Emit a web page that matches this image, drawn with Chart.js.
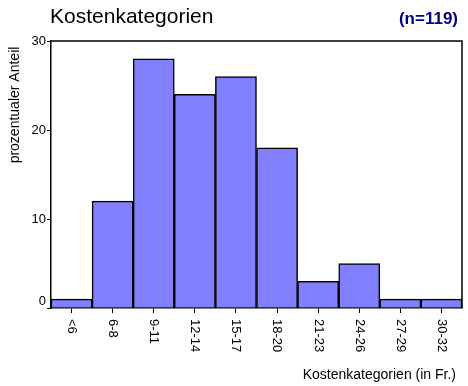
<!DOCTYPE html>
<html>
<head>
<meta charset="utf-8">
<script src="https://cdn.jsdelivr.net/npm/chart.js@4/dist/chart.umd.min.js"></script>
<style>
html,body{margin:0;padding:0;background:#fff;}
canvas{display:block;}
</style>
</head>
<body>
<canvas id="c" width="468" height="386"></canvas>
<script>
const categories = ['<6','6-8','9-11','12-14','15-17','18-20','21-23','24-26','27-29','30-32'];
const values = [1, 12, 28, 24, 26, 18, 3, 5, 1, 1];
const yTickValues = [0, 10, 20, 30];
const titleText = 'Kostenkategorien';
const nText = '(n=119)';
const yTitle = 'prozentualer Anteil';
const xTitle = 'Kostenkategorien (in Fr.)';

const FONT = '"Liberation Sans", Arial, sans-serif';

const decor = {
  id: 'decor',
  afterDraw(chart) {
    const ctx = chart.ctx;
    const a = chart.chartArea;
    const xs = chart.scales.x, ys = chart.scales.y;
    ctx.save();
    // frame top & right
    ctx.strokeStyle = '#000';
    ctx.lineWidth = 1.5;
    ctx.beginPath();
    ctx.moveTo(a.left, a.top);
    ctx.lineTo(a.right, a.top);
    ctx.lineTo(a.right, a.bottom);
    ctx.stroke();
    // y tick labels
    ctx.fillStyle = '#000';
    ctx.font = '13px ' + FONT;
    ctx.textAlign = 'right';
    ctx.textBaseline = 'middle';
    yTickValues.forEach(v => {
      let py = ys.getPixelForValue(v);
      py = Math.min(py, a.bottom - 7);
      ctx.fillText(String(v), a.left - 5, py);
    });
    // x tick labels rotated clockwise
    ctx.textAlign = 'left';
    ctx.textBaseline = 'middle';
    categories.forEach((c, i) => {
      const px = xs.getPixelForValue(i);
      ctx.save();
      ctx.translate(px, a.bottom + 11);
      ctx.rotate(Math.PI / 2);
      ctx.fillText(c, 0, 0);
      ctx.restore();
    });
    // titles
    ctx.font = '21px ' + FONT;
    ctx.textAlign = 'left';
    ctx.textBaseline = 'alphabetic';
    ctx.fillText(titleText, 50, 23);
    ctx.font = 'bold 17px ' + FONT;
    ctx.fillStyle = '#000080';
    ctx.textAlign = 'right';
    ctx.fillText(nText, 458, 24);
    // x title
    ctx.fillStyle = '#000';
    ctx.font = '14px ' + FONT;
    ctx.textAlign = 'right';
    ctx.fillText(xTitle, 456, 379);
    // y title
    ctx.save();
    ctx.translate(19, 105);
    ctx.rotate(-Math.PI / 2);
    ctx.textAlign = 'center';
    ctx.textBaseline = 'alphabetic';
    ctx.fillText(yTitle, 0, 0);
    ctx.restore();
    ctx.restore();
  }
};

new Chart(document.getElementById('c'), {
  type: 'bar',
  data: {
    labels: categories,
    datasets: [{
      data: values,
      backgroundColor: '#8080FF',
      borderColor: '#000',
      borderWidth: 1.5,
      categoryPercentage: 1,
      barPercentage: 1
    }]
  },
  options: {
    responsive: false,
    devicePixelRatio: 1,
    animation: false,
    layout: { padding: { top: 41, right: 6, left: 0, bottom: 0 } },
    plugins: { legend: { display: false }, title: { display: false }, tooltip: { enabled: false } },
    scales: {
      x: {
        offset: true,
        grid: { display: true, offset: false, drawOnChartArea: false, drawTicks: true, tickLength: 5, color: '#000', lineWidth: 1 },
        border: { display: true, color: '#000', width: 1.5 },
        ticks: { display: false },
        afterFit: s => { s.height = 78; }
      },
      y: {
        min: 0, max: 30,
        ticks: { display: false, stepSize: 10 },
        grid: { display: true, drawOnChartArea: false, drawTicks: true, tickLength: 4, color: '#000', lineWidth: 1 },
        border: { display: true, color: '#000', width: 1.5 },
        afterFit: s => { s.width = 51; }
      }
    }
  },
  plugins: [decor]
});
</script>
</body>
</html>
